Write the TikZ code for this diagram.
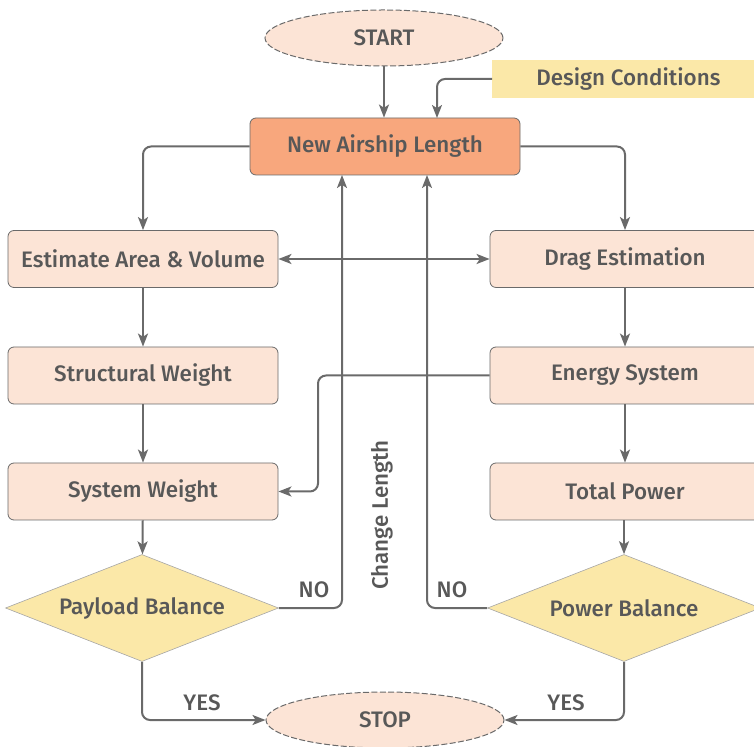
\documentclass[tikz,border=0pt]{standalone}
\usepackage{fontspec}
\setmainfont{Fira Sans}[UprightFont={* Medium}]
\usepackage{xcolor}
\usetikzlibrary{shapes.geometric,arrows.meta}

\definecolor{boxfill}{HTML}{FCE4D6}
\definecolor{lenfill}{HTML}{F8A77D}
\definecolor{condfill}{HTML}{FBE8A8}
\definecolor{linegray}{HTML}{6A6A6A}
\definecolor{textgray}{HTML}{585858}

\begin{document}
\begin{tikzpicture}[x=0.5pt, y=-0.5pt,
		font=\fontsize{11.2}{13}\selectfont, text=textgray,
		stepbox/.style={draw=linegray, line width=0.4pt, fill=boxfill, rounded corners=3pt,
			minimum width=135pt, minimum height=28.5pt, inner sep=0pt},
		terminal/.style={ellipse, draw=linegray, line width=0.5pt, dash pattern=on 3pt off 1.2pt,
			fill=boxfill, minimum width=119pt, minimum height=28pt, inner sep=0pt},
		decision/.style={diamond, fill=condfill, draw=linegray!60, line width=0.3pt, shape aspect=2.55,
			minimum width=136.5pt, minimum height=53.5pt, inner sep=0pt},
		arr/.style={draw=linegray, line width=1pt, rounded corners=4pt,
			-{Stealth[length=6.5pt, width=5pt, inset=1.6pt]}},
		lbl/.style={font=\fontsize{11.2}{13}\selectfont}]

		\useasboundingbox (0,0) rectangle (754,747);

		% Start und Eingangsgroessen
		\node[terminal] (start) at (384,38) {START};
		\node[fill=condfill, minimum width=136pt, minimum height=19pt, inner sep=0pt, anchor=west] (design) at (492,79) {Design Conditions};
		\node[stepbox, fill=lenfill, minimum width=135pt] (newlen) at (385,146.5) {New Airship Length};

		% Linke Spalte
		\node[stepbox] (area) at (143,259) {Estimate Area \& Volume};
		\node[stepbox] (structw) at (143,375.5) {Structural Weight};
		\node[stepbox] (sysw) at (143,491.5) {System Weight};
		\node[decision] (payload) at (142,608) {Payload Balance};

		% Rechte Spalte
		\node[stepbox] (drag) at (625,259) {Drag Estimation};
		\node[stepbox] (energy) at (625,375.5) {Energy System};
		\node[stepbox] (power) at (625,491.5) {Total Power};
		\node[decision] (powbal) at (624,608) {Power Balance};

		% Ende
		\node[terminal] (stop) at (385,720) {STOP};

		% Knickpunkte
		\coordinate (dcin) at (437,118);
		\coordinate (esbend) at (318,430);
		\coordinate (noleft) at (342,175);
		\coordinate (noright) at (427,175);

		% Verbindungen oben
		\draw[arr] (start.south) -- (start.south |- newlen.north);
		\draw[arr] (design.west) -| (dcin);
		\draw[arr] (newlen.west) -| (area.north);
		\draw[arr] (newlen.east) -| (drag.north);

		% Verbindungen links
		\draw[arr] (area) -- (structw);
		\draw[arr] (structw) -- (sysw);
		\draw[arr] (sysw) -- (payload);

		% Verbindungen rechts
		\draw[arr] (drag) -- (energy);
		\draw[arr] (energy) -- (power);
		\draw[arr] (power.south -| powbal.north) -- (powbal.north);
		\draw[arr] (energy.west) -| (esbend) |- (sysw.east);

		% Rueckfuehrungen
		\draw[arr] (payload.east) -| (noleft);
		\draw[arr] (powbal.west) -| (noright);
		\draw[arr, {Stealth[length=6.5pt, width=5pt, inset=1.6pt]}-{Stealth[length=6.5pt, width=5pt, inset=1.6pt]}] (area.east) -- (drag.west);

		% Ausgaenge
		\draw[arr] (payload.south) |- (stop.west);
		\draw[arr] (powbal.south) |- (stop.east);

		% Beschriftungen
		\node[lbl] (noa) at (314,590) {NO};
		\node[lbl] (nob) at (452,590) {NO};
		\node[lbl] (yesa) at (202,703) {YES};
		\node[lbl] (yesb) at (566,703) {YES};
		\node[lbl, rotate=90] (chlen) at (382,515) {Change Length};

	\end{tikzpicture}
\end{document}
